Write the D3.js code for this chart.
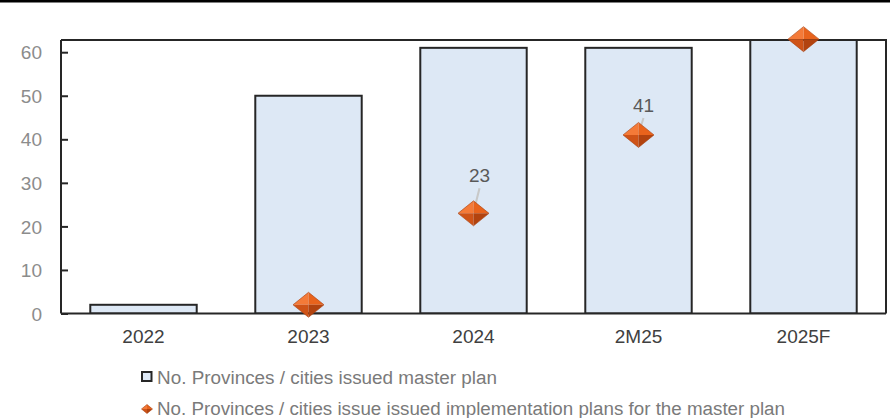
<!DOCTYPE html>
<html>
<head>
<meta charset="utf-8">
<script src="https://cdn.jsdelivr.net/npm/d3@7"></script>
<style>
  html, body { margin: 0; padding: 0; background: #fff; }
  svg { display: block; font-family: Arial, "Liberation Sans", sans-serif; }
</style>
</head>
<body>
<svg id="chart" width="890" height="418"></svg>
<script>
// Categories and series
const categories = ["2022", "2023", "2024", "2M25", "2025F"];
const masterPlan = [2, 50, 61, 61, 63];
const implPlan = [null, 2, 23, 41, 63];
const yTicks = [0, 10, 20, 30, 40, 50, 60];
const legendLabels = [
  "No. Provinces / cities issued master plan",
  "No. Provinces / cities issue issued implementation plans for the master plan"
];
// value labels on the diamonds, with their offsets from the marker
const pointLabels = [
  { cat: "2024", dx: 6, dy: -31 },
  { cat: "2M25", dx: 5, dy: -23 }
];

const svg = d3.select("#chart");
const W = 890, H = 418;
const plot = { left: 61, right: 886, top: 40, bottom: 313.5 };

// heavy rule across the very top
svg.append("rect").attr("x", 0).attr("y", 0).attr("width", W).attr("height", 2.5).attr("fill", "#000");

const x = d3.scaleBand().domain(categories).range([plot.left, plot.right]).paddingInner(0.355).paddingOuter(0.1775);
const y = d3.scaleLinear().domain([0, 62.8]).range([plot.bottom, plot.top]);

const defs = svg.append("defs");
defs.append("clipPath").attr("id", "plotClip")
  .append("rect").attr("x", plot.left).attr("y", plot.top).attr("width", plot.right - plot.left).attr("height", plot.bottom - plot.top);

// bars
svg.append("g").attr("clip-path", "url(#plotClip)")
  .selectAll("rect").data(categories).join("rect")
  .attr("x", d => x(d))
  .attr("y", (d, i) => y(masterPlan[i]))
  .attr("width", x.bandwidth())
  .attr("height", (d, i) => y(0) - y(masterPlan[i]))
  .attr("fill", "#dde8f5")
  .attr("stroke", "#262626")
  .attr("stroke-width", 2);

// frame top and right
svg.append("path")
  .attr("d", `M${plot.left},${plot.top}H${plot.right}V${plot.bottom}`)
  .attr("fill", "none").attr("stroke", "#262626").attr("stroke-width", 2);

// y axis
const yAxis = svg.append("g").attr("transform", `translate(${plot.left},0)`)
  .call(d3.axisLeft(y).tickValues(yTicks).tickSizeInner(-7).tickSizeOuter(0));
yAxis.select(".domain").attr("stroke", "#262626").attr("stroke-width", 2)
  .attr("d", `M0,${plot.top}V${plot.bottom}`);
yAxis.selectAll(".tick line").attr("stroke", "#262626").attr("stroke-width", 2);
yAxis.selectAll(".tick text").attr("fill", "#8c8c8c").attr("font-size", 19)
  .attr("font-family", "Arial, 'Liberation Sans', sans-serif").attr("x", -19).attr("dy", "0.35em");

// x axis
const xAxis = svg.append("g").attr("transform", `translate(0,${plot.bottom})`)
  .call(d3.axisBottom(x).tickSize(0));
xAxis.select(".domain").attr("stroke", "#262626").attr("stroke-width", 2)
  .attr("d", `M${plot.left},0H${plot.right}`);
xAxis.selectAll(".tick text").attr("fill", "#404040").attr("font-size", 19)
  .attr("font-family", "Arial, 'Liberation Sans', sans-serif")
  .attr("y", 29.5).attr("dy", 0);

// bevelled diamond marker
function diamond(g, cx, cy, w, h) {
  const hw = w / 2, hh = h / 2;
  const faces = [
    { p: [[cx - hw, cy], [cx, cy - hh], [cx, cy]], c: "#f47a38" },
    { p: [[cx, cy - hh], [cx + hw, cy], [cx, cy]], c: "#e8631c" },
    { p: [[cx - hw, cy], [cx, cy + hh], [cx, cy]], c: "#cf5317" },
    { p: [[cx, cy + hh], [cx + hw, cy], [cx, cy]], c: "#b2430f" }
  ];
  faces.forEach(f => g.append("path")
    .attr("d", "M" + f.p.map(q => q.join(",")).join("L") + "Z")
    .attr("fill", f.c));
  g.append("path")
    .attr("d", `M${cx - hw},${cy}L${cx},${cy - hh}L${cx + hw},${cy}L${cx},${cy + hh}Z`)
    .attr("fill", "none").attr("stroke", "#a8400f").attr("stroke-width", 0.6);
}

const pts = svg.append("g");
categories.forEach((c, i) => {
  const v = implPlan[i];
  if (v == null) return;
  const cx = x(c) + x.bandwidth() / 2, cy = y(v);
  const lab = pointLabels.find(p => p.cat === c);
  if (lab) {
    pts.append("line")
      .attr("x1", cx).attr("y1", cy - 1)
      .attr("x2", cx + lab.dx).attr("y2", cy + lab.dy + 6)
      .attr("stroke", "#c8c8c8").attr("stroke-width", 2);
  }
  diamond(pts, cx, cy, 31, 25);
  if (lab) {
    pts.append("text")
      .attr("x", cx + lab.dx).attr("y", cy + lab.dy)
      .attr("text-anchor", "middle")
      .attr("fill", "#595959").attr("font-size", 19)
      .text(v);
  }
});

// legend
const lg = svg.append("g");
lg.append("rect").attr("x", 142).attr("y", 372).attr("width", 9.5).attr("height", 9)
  .attr("fill", "#dde8f5").attr("stroke", "#262626").attr("stroke-width", 2);
lg.append("text").attr("x", 157).attr("y", 384)
  .attr("fill", "#7a7a7a").attr("font-size", 18)
  .attr("textLength", 340).attr("lengthAdjust", "spacingAndGlyphs")
  .text(legendLabels[0]);
diamond(lg, 147, 409, 11, 9);
lg.append("text").attr("x", 157).attr("y", 415)
  .attr("fill", "#7a7a7a").attr("font-size", 18)
  .attr("textLength", 628).attr("lengthAdjust", "spacingAndGlyphs")
  .text(legendLabels[1]);
</script>
</body>
</html>
